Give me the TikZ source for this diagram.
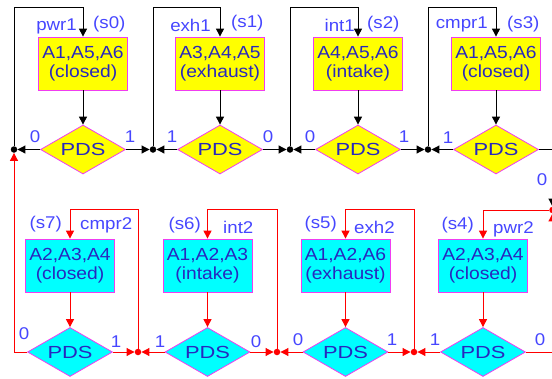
\documentclass[tikz,border=0pt]{standalone}
\usepackage{fontspec}
\setmainfont{Liberation Sans}
\newfontfamily\boxfont[FakeStretch=1.1]{Liberation Sans}
\newfontfamily\pdsfont[FakeStretch=1.25]{Liberation Sans}
\usetikzlibrary{shapes.geometric,arrows.meta}

\definecolor{boxtext}{RGB}{40,40,190}
\definecolor{labtext}{RGB}{70,70,255}
\definecolor{edgemag}{RGB}{240,60,240}
\definecolor{fillyel}{RGB}{255,255,0}
\definecolor{fillcyan}{RGB}{0,255,255}
\definecolor{wire}{RGB}{255,0,0}

\tikzset{
  state/.style={draw=edgemag, line width=0.8pt, minimum width=89pt, minimum height=53pt,
    inner sep=0pt, align=center, text=boxtext, font=\boxfont\fontsize{17.5}{19.5}\selectfont},
  upper/.style={state, fill=fillyel},
  lower/.style={state, fill=fillcyan},
  test/.style={diamond, draw=edgemag, line width=0.8pt, minimum width=85pt, minimum height=49pt,
    aspect=1.73, inner sep=0pt, text=boxtext, font=\pdsfont\fontsize{17.5}{20}\selectfont},
  junc/.style={circle, fill, inner sep=0pt, minimum size=6.5pt},
  flow/.style={line width=1pt, -{Triangle[length=8pt,width=8pt]}},
  tag/.style={text=labtext, inner sep=0pt, font=\boxfont\fontsize{17}{19}\selectfont},
}

\begin{document}
\begin{tikzpicture}[x=1pt,y=-1pt]
\useasboundingbox (0,0) rectangle (552,378);

% ---- first revolution (yellow states) ----
\node[upper] (b0) at (83,63.5)  {A1,A5,A6\\(closed)};
\node[upper] (b1) at (220,63.5) {A3,A4,A5\\(exhaust)};
\node[upper] (b2) at (358,63.5) {A4,A5,A6\\(intake)};
\node[upper] (b3) at (496,63.5) {A1,A5,A6\\(closed)};

\node[test, fill=fillyel] (d0) at (83,149.5)  {PDS};
\node[test, fill=fillyel] (d1) at (220,149.5) {PDS};
\node[test, fill=fillyel] (d2) at (358,149.5) {PDS};
\node[test, fill=fillyel] (d3) at (496,149.5) {PDS};

% ---- second revolution (cyan states) ----
\node[lower] (b7) at (70,265.5)    {A2,A3,A4\\(closed)};
\node[lower] (b6) at (207.5,265.5) {A1,A2,A3\\(intake)};
\node[lower] (b5) at (345.5,265.5) {A1,A2,A6\\(exhaust)};
\node[lower] (b4) at (483,265.5)   {A2,A3,A4\\(closed)};

\node[test, fill=fillcyan] (d7) at (70,352)    {PDS};
\node[test, fill=fillcyan] (d6) at (207.5,352) {PDS};
\node[test, fill=fillcyan] (d5) at (345.5,352) {PDS};
\node[test, fill=fillcyan] (d4) at (483,352)   {PDS};

% ---- junctions ----
\node[junc] (j0) at (14,149.5)  {};
\node[junc] (j1) at (153,149.5) {};
\node[junc] (j2) at (290,149.5) {};
\node[junc] (j3) at (428,149.5) {};
\node[junc, fill=wire] (j7) at (138,352)   {};
\node[junc, fill=wire] (j6) at (277,352)   {};
\node[junc, fill=wire] (j5) at (414,352)   {};
\node[junc, fill=wire] (j4) at (552.5,210) {};

% loop tops
\coordinate (t0) at (83,7);
\coordinate (t1) at (220,7);
\coordinate (t2) at (358,7);
\coordinate (t3) at (496,7);
\coordinate (t7) at (70,209);
\coordinate (t6) at (207.5,209);
\coordinate (t5) at (345.5,209);

% ---- black transitions ----
\draw[flow] (j0) |- (t0) -- (b0);
\draw[flow] (j1) |- (t1) -- (b1);
\draw[flow] (j2) |- (t2) -- (b2);
\draw[flow] (j3) |- (t3) -- (b3);
\draw[flow] (b0) -- (d0);
\draw[flow] (b1) -- (d1);
\draw[flow] (b2) -- (d2);
\draw[flow] (b3) -- (d3);
\draw[flow] (d0) -- (j0);
\draw[flow] (d0) -- (j1);
\draw[flow] (d1) -- (j1);
\draw[flow] (d1) -- (j2);
\draw[flow] (d2) -- (j2);
\draw[flow] (d2) -- (j3);
\draw[flow] (d3) -- (j3);
\draw[flow] (d3.east) -| (j4);

% ---- red transitions ----
\begin{scope}[wire]
\draw[flow] (d4.east) -| (j4);
\draw[flow] (j4) -| (b4);
\draw[flow] (j5) |- (t5) -- (b5);
\draw[flow] (j6) |- (t6) -- (b6);
\draw[flow] (j7) |- (t7) -- (b7);
\draw[flow] (b4) -- (d4);
\draw[flow] (b5) -- (d5);
\draw[flow] (b6) -- (d6);
\draw[flow] (b7) -- (d7);
\draw[flow] (d4) -- (j5);
\draw[flow] (d5) -- (j5);
\draw[flow] (d5) -- (j6);
\draw[flow] (d6) -- (j6);
\draw[flow] (d6) -- (j7);
\draw[flow] (d7) -- (j7);
\draw[flow] (d7.west) -| (j0);
\end{scope}

% ---- state names ----
\node[tag, anchor=base east] (n0) at (77,30)  {pwr1};
\node[tag, anchor=base west] (s0) at (93,28)  {(s0)};
\node[tag, anchor=base east] (n1) at (211,31) {exh1};
\node[tag, anchor=base west] (s1) at (231,27) {(s1)};
\node[tag, anchor=base east] (n2) at (355,31) {int1};
\node[tag, anchor=base west] (s2) at (367,28) {(s2)};
\node[tag, anchor=base east] (n3) at (488,28) {cmpr1};
\node[tag, anchor=base west] (s3) at (507,28) {(s3)};

\node[tag, anchor=base east] (s7) at (62,228)  {(s7)};
\node[tag, anchor=base west] (n7) at (80,229)  {cmpr2};
\node[tag, anchor=base east] (s6) at (201,229) {(s6)};
\node[tag, anchor=base west] (n6) at (223,233) {int2};
\node[tag, anchor=base east] (s5) at (337,228) {(s5)};
\node[tag, anchor=base west] (n5) at (354,233) {exh2};
\node[tag, anchor=base east] (s4) at (474,229) {(s4)};
\node[tag, anchor=base west] (n4) at (493,233) {pwr2};

% ---- branch values ----
\node[tag, anchor=base] (v0a) at (35,142)  {0};
\node[tag, anchor=base] (v0b) at (130,142) {1};
\node[tag, anchor=base] (v1a) at (172,142) {1};
\node[tag, anchor=base] (v1b) at (268,142) {0};
\node[tag, anchor=base] (v2a) at (310,142) {0};
\node[tag, anchor=base] (v2b) at (404,142) {1};
\node[tag, anchor=base] (v3a) at (448,143) {1};
\node[tag, anchor=base] (v3b) at (542,185) {0};

\node[tag, anchor=base] (v7a) at (24,339)  {0};
\node[tag, anchor=base] (v7b) at (116,347) {1};
\node[tag, anchor=base] (v6a) at (160,347) {1};
\node[tag, anchor=base] (v6b) at (256,347) {0};
\node[tag, anchor=base] (v5a) at (298,345) {0};
\node[tag, anchor=base] (v5b) at (392,345) {1};
\node[tag, anchor=base] (v4a) at (435,345) {1};
\node[tag, anchor=base] (v4b) at (540,345) {0};
\end{tikzpicture}
\end{document}
